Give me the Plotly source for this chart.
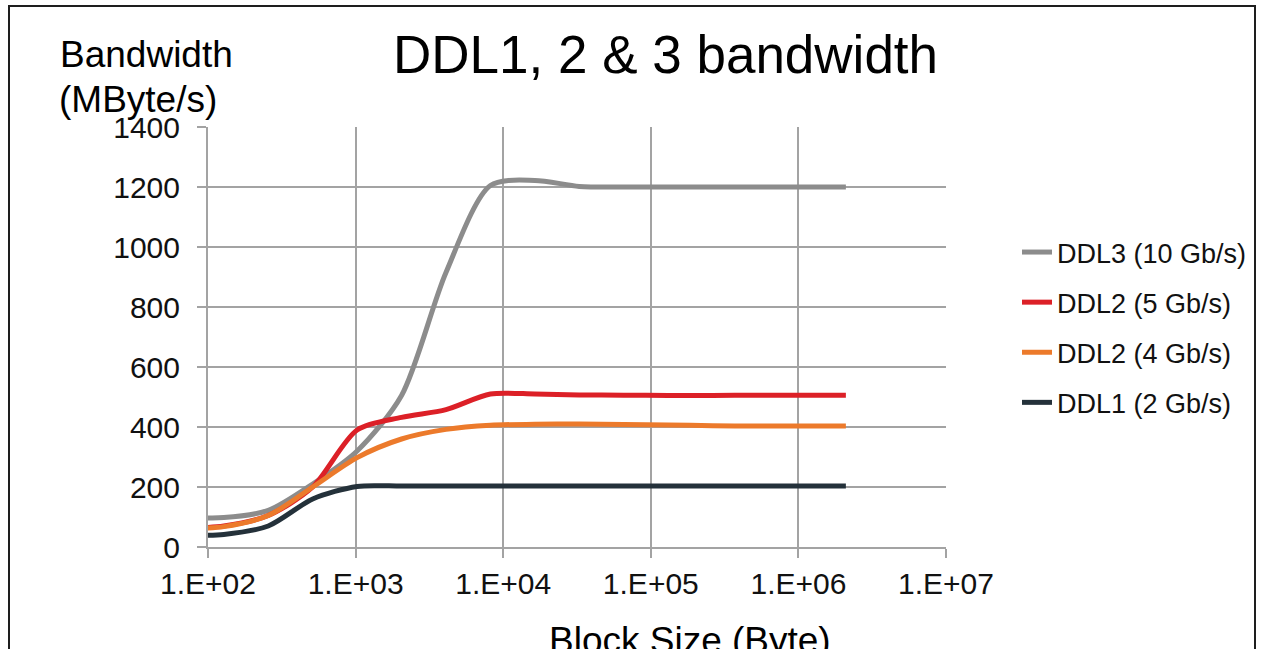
import plotly.graph_objects as go

# ---- data ----
block_sizes = [64, 128, 256, 512, 1024, 2048, 4096, 8192, 16384, 32768,
               65536, 131072, 262144, 524288, 1048576, 2097152]
ddl3_10g = [100, 98, 122, 210, 320, 505, 915, 1205, 1222, 1202,
            1200, 1200, 1200, 1200, 1200, 1200]
ddl2_5g = [62, 70, 105, 200, 390, 432, 458, 510, 510, 507,
           506, 505, 505, 506, 506, 506]
ddl2_4g = [60, 68, 105, 200, 298, 360, 392, 406, 409, 410,
           408, 407, 404, 403, 403, 403]
ddl1_2g = [38, 42, 70, 160, 202, 203, 203, 203, 203, 203,
           203, 203, 203, 203, 203, 203]

series_names = ["DDL3 (10 Gb/s)", "DDL2 (5 Gb/s)", "DDL2 (4 Gb/s)", "DDL1 (2 Gb/s)"]
series_values = [ddl3_10g, ddl2_5g, ddl2_4g, ddl1_2g]
series_colors = ["#8c8c8c", "#dc2027", "#ec7a2b", "#24313a"]

x_tickvals = [1e2, 1e3, 1e4, 1e5, 1e6, 1e7]
x_ticktext = ["1.E+02", "1.E+03", "1.E+04", "1.E+05", "1.E+06", "1.E+07"]
y_tickvals = [0, 200, 400, 600, 800, 1000, 1200, 1400]

FONT = "Liberation Sans, Arial, sans-serif"
GRID = "#a3a3a3"

W, H = 1264, 649
# plot area in page pixels: x 208..946, y 127..547
PL, PR, PT, PB = 208, 946, 127, 547
L, T, R, B = PL, PT, W - PR, H - PB
pw, ph = PR - PL, PB - PT


def px_x(p):
    return (p - PL) / pw


def px_y(p):
    return (PB - p) / ph


fig = go.Figure()
for i, (name, vals, col) in enumerate(zip(series_names, series_values, series_colors)):
    fig.add_trace(go.Scatter(
        x=block_sizes, y=vals, name=name, mode="lines",
        line=dict(color=col, width=5, shape="spline", smoothing=0.8),
        legendgroup=f"g{i}",
    ))

fig.update_layout(
    width=W, height=H,
    margin=dict(l=L, r=R, t=T, b=B, autoexpand=False),
    paper_bgcolor="white", plot_bgcolor="white",
    font=dict(family=FONT, color="#000000"),
    showlegend=True,
    legend=dict(
        x=px_x(1017), y=px_y(228), xanchor="left", yanchor="top",
        font=dict(size=27, family=FONT, color="#111111"),
        traceorder="grouped", tracegroupgap=12,
        bgcolor="rgba(0,0,0,0)",
    ),
    xaxis=dict(
        type="log", range=[2, 7],
        tickvals=x_tickvals, ticktext=x_ticktext,
        showgrid=True, gridcolor=GRID, gridwidth=2,
        showline=True, linecolor=GRID, linewidth=2,
        ticks="outside", ticklen=9, tickwidth=2, tickcolor=GRID,
        tickfont=dict(size=30, family=FONT, color="#111111"),
        ticklabelstandoff=0,
        zeroline=False,
    ),
    yaxis=dict(
        range=[0, 1400], tickvals=y_tickvals,
        showgrid=True, gridcolor=GRID, gridwidth=2,
        showline=True, linecolor=GRID, linewidth=2,
        ticks="outside", ticklen=9, tickwidth=2, tickcolor=GRID,
        tickfont=dict(size=30, family=FONT, color="#111111"),
        ticklabelstandoff=11,
        zeroline=False,
    ),
)

# chart title and axis titles
fig.add_annotation(text="DDL1, 2 & 3 bandwidth", xref="paper", yref="paper",
                   x=px_x(665), y=px_y(55), xanchor="center", yanchor="middle",
                   showarrow=False, font=dict(size=53, family=FONT, color="#000000"))
fig.add_annotation(text="Bandwidth", xref="paper", yref="paper",
                   x=px_x(58), y=px_y(55), xanchor="left", yanchor="middle",
                   showarrow=False, font=dict(size=37, family=FONT, color="#000000"))
fig.add_annotation(text="(MByte/s)", xref="paper", yref="paper",
                   x=px_x(57), y=px_y(99), xanchor="left", yanchor="middle",
                   showarrow=False, font=dict(size=37, family=FONT, color="#000000"))
fig.add_annotation(text="Block Size (Byte)", xref="paper", yref="paper",
                   x=px_x(690), y=px_y(640), xanchor="center", yanchor="middle",
                   showarrow=False, font=dict(size=37, family=FONT, color="#000000"))

# outer chart border (extends below the visible window, as in the reference)
fig.add_shape(type="rect", xref="paper", yref="paper",
              x0=px_x(9), x1=px_x(1255), y0=px_y(700), y1=px_y(6),
              line=dict(color="#1e1e1e", width=2), fillcolor="rgba(0,0,0,0)",
              layer="above")

fig.write_html(
    "out.html",
    config={"displayModeBar": False},
    post_script="document.body.style.margin='0';document.body.style.overflow='hidden';",
)
